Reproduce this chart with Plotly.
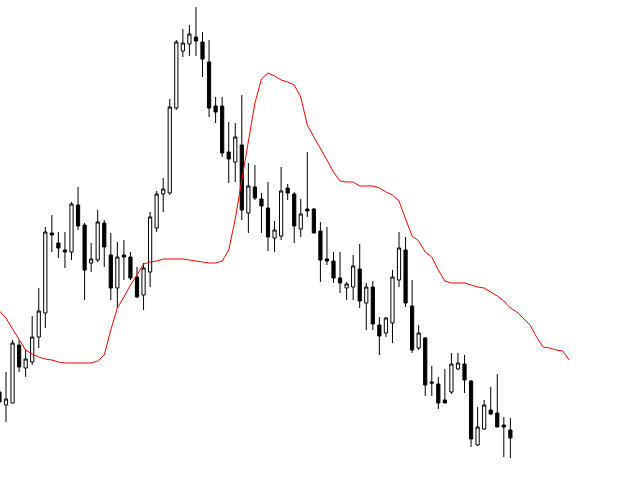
import plotly.graph_objects as go

# candle prices (arbitrary units), one per bar
opens = [88, 75, 77, 135, 112, 118, 143, 167, 247, 237, 230, 228, 275, 255, 217, 220,
         257, 225, 192, 225, 223, 203, 185, 208, 252, 286, 287, 372, 429, 436, 443, 438,
         418, 374, 374, 328, 318, 335, 267, 293, 281, 272, 242, 244, 292, 286, 251, 271,
         271, 249, 221, 219, 202, 192, 193, 211, 177, 193, 155, 147, 157, 200, 230, 174,
         132, 142, 98, 96, 80, 88, 111, 116, 99, 35, 51, 70, 67, 55, 50]
highs = [103, 108, 140, 140, 130, 164, 192, 253, 265, 248, 248, 278, 293, 257, 237, 270,
         260, 247, 238, 240, 228, 213, 217, 268, 289, 302, 381, 440, 451, 455, 473, 448,
         440, 383, 383, 358, 357, 385, 317, 315, 287, 298, 259, 313, 296, 288, 281, 328,
         272, 258, 253, 228, 228, 198, 225, 236, 197, 199, 163, 163, 210, 248, 243, 200,
         155, 143, 114, 103, 111, 127, 127, 125, 100, 73, 80, 93, 106, 63, 62]
lows = [60, 58, 77, 108, 103, 115, 132, 152, 228, 222, 212, 220, 250, 180, 208, 218,
        213, 180, 172, 200, 200, 182, 170, 193, 248, 268, 285, 370, 423, 424, 424, 403,
        363, 357, 323, 297, 298, 260, 247, 280, 247, 229, 228, 240, 280, 237, 243, 263,
        247, 198, 215, 197, 187, 180, 180, 172, 150, 150, 125, 143, 137, 193, 173, 127,
        130, 84, 84, 71, 77, 86, 110, 87, 33, 34, 50, 65, 53, 23, 22]
closes = [78, 81, 137, 113, 121, 143, 169, 248, 245, 232, 228, 276, 254, 210, 221, 258,
          233, 192, 223, 223, 202, 183, 212, 263, 286, 291, 373, 438, 437, 446, 439, 421,
          372, 368, 327, 321, 343, 270, 294, 282, 274, 243, 250, 289, 287, 254, 266, 269,
          247, 220, 219, 202, 197, 196, 214, 179, 193, 156, 144, 162, 203, 232, 177, 130,
          147, 95, 97, 77, 77, 116, 117, 100, 41, 53, 75, 66, 53, 53, 42]

# shifted moving average (runs past the last bar)
ma_line = [169, 162, 151, 140, 130, 126, 123, 121, 120, 118, 117, 117, 117, 117, 117, 119,
           125, 150, 172, 183, 195, 205, 216, 218, 219, 221, 221, 221, 221, 220, 219, 218,
           217, 217, 219, 230, 261, 300, 338, 377, 401, 407, 404, 400, 398, 395, 383, 355,
           343, 332, 320, 308, 299, 298, 298, 294, 294, 294, 292, 288, 285, 279, 261, 244,
           239, 228, 223, 210, 199, 197, 197, 197, 195, 193, 192, 188, 184, 179, 172, 168,
           162, 155, 143, 133, 132, 130, 129, 120]

bars = list(range(len(opens)))
ma_x = list(range(len(ma_line)))

fig = go.Figure()
fig.add_trace(go.Candlestick(
    x=bars, open=opens, high=highs, low=lows, close=closes,
    increasing=dict(line=dict(color="black", width=1), fillcolor="white"),
    decreasing=dict(line=dict(color="black", width=1), fillcolor="black"),
    whiskerwidth=0,
))
fig.add_trace(go.Scatter(x=ma_x, y=ma_line, mode="lines",
                         line=dict(color="red", width=1)))

fig.update_layout(
    width=640, height=480,
    margin=dict(l=0, r=0, t=0, b=0),
    paper_bgcolor="white", plot_bgcolor="white",
    showlegend=False,
)
fig.update_xaxes(range=[0.084, 97.79], visible=False, showgrid=False,
                 rangeslider=dict(visible=False))
fig.update_yaxes(range=[0, 480], visible=False, showgrid=False)

# drop the default 8px page margin so the chart fills the window
fig.write_html("out.html", config={"displayModeBar": False},
               post_script="document.body.style.margin='0';")
